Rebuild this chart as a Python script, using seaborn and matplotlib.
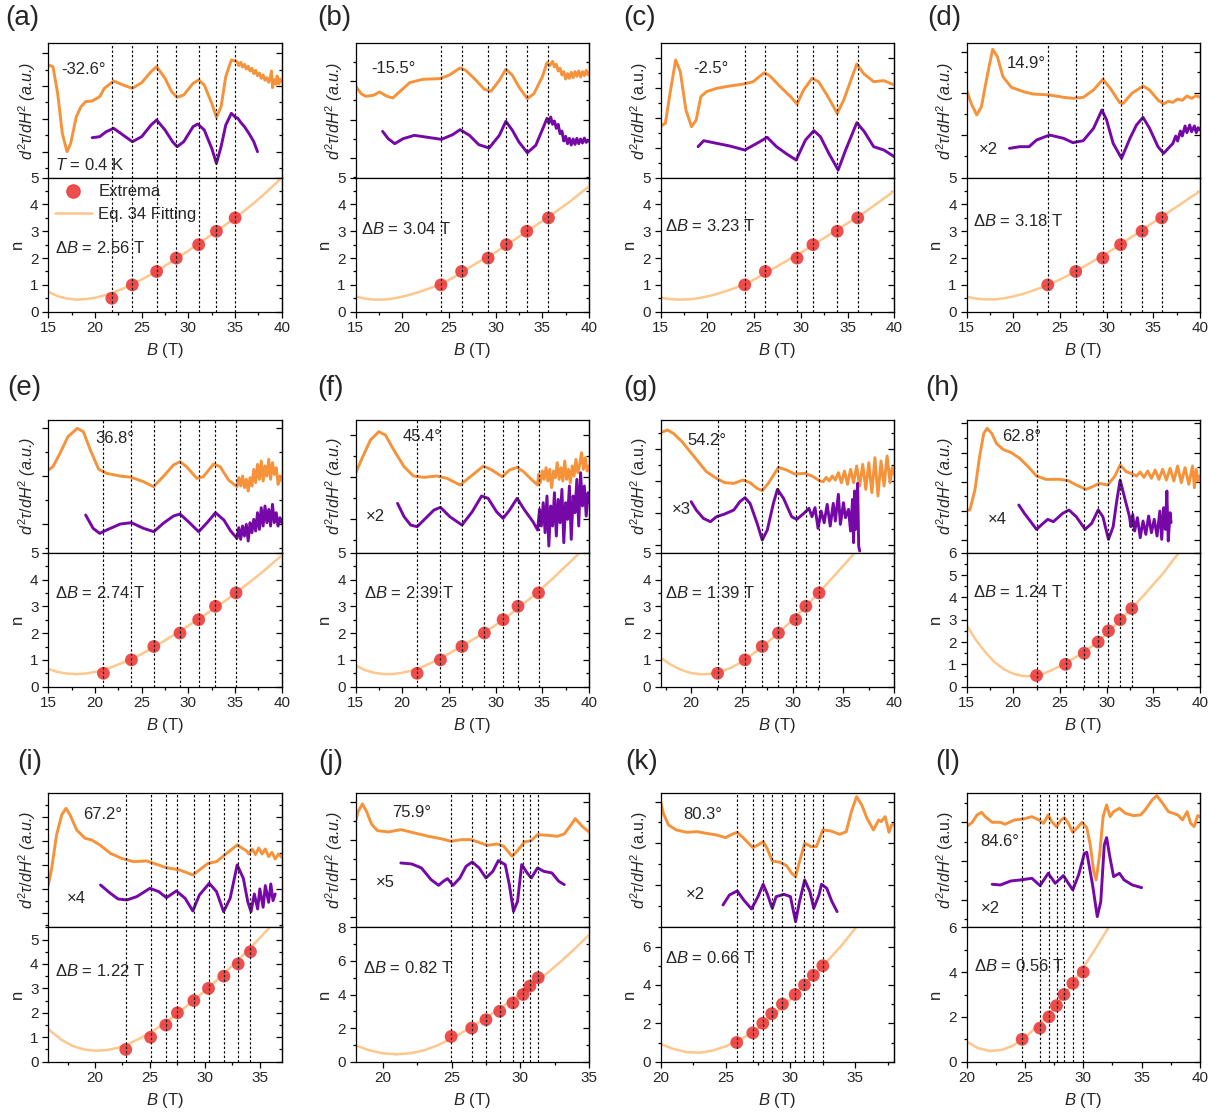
import numpy as np
import pandas as pd
import matplotlib
matplotlib.use("Agg")
import matplotlib.pyplot as plt
import seaborn as sns
from matplotlib.ticker import MultipleLocator, FixedLocator
from matplotlib.lines import Line2D

# ------------------------------------------------------------------ data
# top traces: (B [T], signal [a.u.]) ; fits: (B, n) ; extrema B and n
a_orange = [(15.0,33.8),(15.5,33.3),(16.0,25.3),(16.5,13.3),(17.0,7.8),(17.4,10.3),(18.0,18.3),(18.5,21.3),(19.0,22.8),(19.7,23.0),(20.5,24.3),(21.0,26.8),(22.0,29.0),(23.0,27.8),(24.0,26.8),(25.0,28.5),(26.0,31.8),(26.6,33.3),(27.5,29.8),(28.2,25.8),(28.8,24.1),(29.5,24.8),(30.5,28.3),(31.1,29.3),(31.7,27.8),(32.5,22.3),(33.0,18.1),(33.5,21.3),(34.0,30.3),(34.6,35.3),(35.2,34.8),(35.4,33.6),(35.6,34.6),(35.8,33.2),(36.0,34.0),(36.2,32.6),(36.4,33.4),(36.6,32.0),(36.8,32.8),(37.0,31.2),(37.2,32.2),(37.4,30.6),(37.6,31.4),(37.8,29.8),(38.0,30.8),(38.2,29.2),(38.4,30.0),(38.6,28.6),(38.8,30.4),(38.9,32.0),(39.0,27.0),(39.2,29.4),(39.4,28.0),(39.5,30.5),(39.7,28.2),(39.8,29.6),(40.0,28.8)]
a_purple = [(19.7,12.0),(20.5,12.3),(21.2,13.8),(22.0,14.8),(23.0,12.8),(24.0,10.8),(25.0,12.3),(26.0,15.8),(26.6,17.3),(27.5,14.3),(28.3,10.8),(28.8,9.3),(29.5,10.8),(30.5,15.3),(31.0,16.1),(31.7,14.3),(32.5,8.8),(33.0,4.3),(33.5,9.3),(34.0,15.8),(34.6,19.3),(35.0,18.2),(35.3,17.8),(35.6,16.6),(36.0,15.3),(36.5,13.2),(37.0,10.8),(37.4,7.8)]
a_fit = [(15,0.74),(16,0.58),(17,0.49),(18,0.45),(19,0.47),(20,0.52),(21,0.61),(22,0.72),(23,0.86),(24,1.02),(25,1.2),(26,1.39),(27,1.6),(28,1.82),(29,2.05),(30,2.28),(31,2.52),(32,2.76),(33,3.0),(34,3.25),(35,3.5),(36,3.77),(37,4.05),(38,4.35),(39,4.67),(40,5.0)]
a_ext_B = [21.8, 24.0, 26.6, 28.7, 31.1, 33.0, 35.0]
a_ext_n = [0.5, 1.0, 1.5, 2.0, 2.5, 3.0, 3.5]

b_orange = [(15.0,27.5),(15.6,25.2),(16.1,24.4),(16.9,24.7),(17.6,25.7),(18.3,24.5),(19.0,23.9),(19.7,25.7),(20.8,28.5),(22.2,29.5),(24.0,29.7),(25.0,30.7),(26.2,32.9),(26.8,32.2),(27.9,29.2),(28.8,26.5),(29.5,25.9),(30.4,29.2),(31.1,32.5),(31.8,30.7),(32.5,27.2),(33.4,23.7),(34.1,25.2),(35.0,30.2),(35.5,34.5),(35.8,33.6),(36.1,34.9),(36.3,33.2),(36.5,34.0),(36.7,32.0),(36.9,32.8),(37.1,30.8),(37.3,31.8),(37.5,29.6),(37.7,31.2),(37.9,29.8),(38.1,31.6),(38.3,30.0),(38.5,31.8),(38.7,30.4),(38.9,32.0),(39.1,30.2),(39.3,31.8),(39.5,30.6),(39.7,32.2),(39.9,30.8),(40.0,31.7)]
b_purple = [(17.9,13.9),(18.5,11.7),(19.2,10.2),(20.1,11.7),(21.3,12.7),(22.5,12.2),(24.2,11.5),(25.4,12.9),(26.2,14.4),(27.2,12.7),(28.2,9.9),(29.3,8.9),(30.4,12.7),(31.1,16.9),(31.8,14.2),(32.5,10.7),(33.4,7.5),(34.3,9.7),(35.2,15.7),(35.5,17.8),(35.7,16.4),(35.9,18.2),(36.1,16.0),(36.3,17.0),(36.5,14.8),(36.7,16.0),(36.9,13.2),(37.1,14.0),(37.3,11.0),(37.5,12.4),(37.7,10.2),(37.9,11.8),(38.1,9.8),(38.3,11.6),(38.5,10.0),(38.7,11.8),(38.9,10.2),(39.1,11.6),(39.3,10.4),(39.5,11.9),(39.7,10.6),(40.0,11.2)]
b_fit = [(15,0.57),(16,0.49),(17,0.45),(18,0.45),(19,0.49),(20,0.56),(21,0.65),(22,0.76),(23,0.88),(24,1.0),(25,1.18),(26,1.38),(27,1.6),(28,1.82),(29,2.02),(30,2.22),(31,2.45),(32,2.68),(33,2.92),(34,3.15),(35,3.38),(36,3.62),(37,3.87),(38,4.12),(39,4.4),(40,4.67)]
b_ext_B = [24.15, 26.36, 29.2, 31.16, 33.34, 35.66]
b_ext_n = [1.0, 1.5, 2.0, 2.5, 3.0, 3.5]

c_orange = [(15.0,15.5),(15.5,16.3),(16.0,25.3),(16.6,35.3),(17.1,31.8),(17.7,20.3),(18.3,15.3),(18.8,17.3),(19.3,24.3),(19.9,25.8),(21.0,26.8),(22.4,27.5),(23.9,28.1),(24.9,28.8),(26.1,31.5),(26.7,30.5),(27.8,27.3),(28.9,24.3),(29.6,22.1),(30.3,26.3),(31.2,29.8),(31.9,28.8),(32.8,24.8),(33.9,19.3),(34.6,23.3),(35.5,30.3),(36.0,34.1),(36.7,31.3),(37.8,28.8),(38.9,29.1),(40.0,27.8)]
c_purple = [(19.0,9.3),(19.6,11.1),(21.0,10.3),(22.4,9.5),(24.0,8.3),(25.3,10.3),(26.4,12.1),(27.4,9.3),(28.5,7.1),(29.5,5.3),(30.5,11.3),(31.4,14.1),(32.1,12.3),(33.0,7.3),(34.0,2.3),(34.8,8.3),(36.0,16.5),(36.8,13.8),(37.8,9.3),(38.9,8.3),(40.0,6.3)]
c_fit = [(15,0.52),(16,0.47),(17,0.45),(18,0.46),(19,0.5),(20,0.57),(21,0.66),(22,0.77),(23,0.89),(24,1.02),(25,1.2),(26,1.4),(27,1.6),(28,1.8),(29,2.0),(30,2.2),(31,2.42),(32,2.64),(33,2.86),(34,3.08),(35,3.3),(36,3.52),(37,3.75),(38,4.0),(39,4.25),(40,4.5)]
c_ext_B = [24.0, 26.2, 29.6, 31.3, 33.9, 36.1]
c_ext_n = [1.0, 1.5, 2.0, 2.5, 3.0, 3.5]

d_orange = [(15.0,26.3),(15.5,22.3),(16.1,18.8),(16.6,21.3),(17.2,30.3),(17.8,38.5),(18.3,36.3),(18.9,30.3),(19.8,27.1),(21.1,25.8),(22.1,25.1),(23.9,24.8),(25.4,24.1),(26.4,23.8),(27.5,24.1),(28.6,26.3),(29.6,29.5),(30.4,26.8),(31.4,22.5),(31.8,22.3),(32.7,25.3),(33.9,27.5),(34.6,26.3),(35.5,23.3),(36.1,22.1),(36.6,22.9),(37.1,22.6),(37.6,23.6),(38.1,23.2),(38.6,24.5),(39.1,23.8),(39.6,24.6),(40.0,24.1)]
d_purple = [(19.6,8.8),(20.7,9.3),(21.7,9.3),(22.5,11.3),(23.9,12.8),(25.4,11.8),(26.4,10.5),(27.5,11.1),(28.6,14.8),(29.5,20.3),(30.0,17.3),(30.7,10.3),(31.6,5.8),(32.5,11.8),(33.2,15.8),(33.9,18.1),(34.6,14.8),(35.5,9.3),(36.1,7.3),(36.6,8.8),(37.1,10.3),(37.4,12.5),(37.6,11.0),(37.9,14.0),(38.1,12.5),(38.4,15.5),(38.6,13.5),(38.9,15.8),(39.1,13.8),(39.4,15.5),(39.6,13.5),(39.8,15.0),(40.0,14.3)]
d_fit = [(15,0.56),(16,0.49),(17,0.46),(18,0.46),(19,0.5),(20,0.57),(21,0.66),(22,0.77),(23,0.9),(24,1.04),(25,1.2),(26,1.38),(27,1.57),(28,1.77),(29,1.97),(30,2.17),(31,2.4),(32,2.63),(33,2.86),(34,3.1),(35,3.33),(36,3.57),(37,3.8),(38,4.03),(39,4.27),(40,4.5)]
d_ext_B = [23.7, 26.7, 29.6, 31.5, 33.8, 35.9]
d_ext_n = [1.0, 1.5, 2.0, 2.5, 3.0, 3.5]

e_orange = [(15.0,24.8),(15.5,25.8),(16.25,29.8),(17.1,34.8),(18.1,37.3),(18.75,36.3),(19.5,30.8),(20.4,25.0),(21.25,23.8),(22.7,23.0),(23.9,22.6),(25.2,21.3),(26.25,19.8),(27.3,22.8),(28.4,26.3),(29.1,27.3),(29.8,25.8),(30.9,22.3),(31.6,22.8),(32.7,26.6),(33.4,25.8),(34.3,21.8),(35.2,19.8),(35.4,22.5),(35.6,20.0),(35.8,23.0),(36.0,19.5),(36.2,22.0),(36.4,18.5),(36.6,22.5),(36.8,20.0),(37.0,25.0),(37.2,21.0),(37.4,26.5),(37.6,22.0),(37.8,27.5),(38.0,21.5),(38.2,26.0),(38.4,23.0),(38.6,28.0),(38.8,22.0),(39.0,27.0),(39.2,23.5),(39.4,25.5),(39.6,20.5),(39.8,23.0),(40.0,21.5)]
e_purple = [(19.0,11.3),(19.8,7.3),(20.5,5.8),(21.25,6.8),(22.7,8.6),(23.9,9.0),(25.2,7.3),(26.3,6.3),(27.3,8.8),(28.4,11.0),(29.1,11.6),(30.0,9.3),(31.1,6.3),(32.0,9.0),(32.9,12.0),(33.8,9.8),(34.5,6.6),(35.2,4.3),(35.4,7.5),(35.6,4.0),(35.8,8.0),(36.0,5.0),(36.2,8.5),(36.4,3.5),(36.6,9.0),(36.8,6.0),(37.0,10.0),(37.2,6.5),(37.4,12.0),(37.6,7.0),(37.8,13.5),(38.0,8.0),(38.2,14.0),(38.4,9.0),(38.6,13.0),(38.8,8.0),(39.0,14.5),(39.2,9.0),(39.4,12.0),(39.6,8.0),(39.8,10.5),(40.0,9.0)]
e_fit = [(15,0.66),(16,0.55),(17,0.49),(18,0.47),(19,0.49),(20,0.55),(21,0.64),(22,0.76),(23,0.9),(24,1.05),(25,1.22),(26,1.42),(27,1.62),(28,1.84),(29,2.05),(30,2.28),(31,2.5),(32,2.74),(33,2.98),(34,3.22),(35,3.48),(36,3.75),(37,4.02),(38,4.3),(39,4.6),(40,4.9)]
e_ext_B = [20.9, 23.9, 26.3, 29.1, 31.1, 32.9, 35.1]
e_ext_n = [0.5, 1.0, 1.5, 2.0, 2.5, 3.0, 3.5]

f_orange = [(15.0,23.8),(15.7,28.3),(16.6,33.8),(17.5,36.3),(18.2,35.3),(19.1,30.8),(20.2,25.8),(21.2,23.0),(22.3,22.6),(23.7,23.0),(24.8,22.3),(26.2,20.3),(27.3,22.8),(28.7,26.0),(29.6,24.8),(30.7,22.8),(31.5,24.8),(32.3,25.6),(33.0,24.3),(33.9,21.8),(34.5,20.3),(34.6,23.5),(34.8,21.0),(35.0,24.5),(35.2,22.0),(35.4,25.5),(35.6,21.5),(35.8,25.0),(36.0,19.5),(36.2,24.5),(36.4,22.5),(36.6,27.0),(36.8,22.0),(37.0,25.5),(37.2,21.5),(37.4,27.5),(37.6,22.0),(37.8,25.0),(38.0,21.0),(38.2,26.0),(38.4,23.0),(38.6,28.0),(38.8,24.0),(39.0,26.5),(39.2,30.0),(39.4,25.0),(39.6,28.5),(39.8,24.5),(40.0,26.0)]
f_purple = [(19.5,14.8),(20.2,10.8),(20.9,8.3),(21.6,7.8),(22.5,10.3),(23.4,12.8),(24.1,13.6),(25.1,10.8),(26.4,8.3),(27.5,12.3),(28.5,17.0),(29.2,16.3),(30.1,12.3),(30.8,10.3),(31.5,12.8),(32.3,16.3),(33.1,12.8),(34.0,9.3),(34.5,6.8),(34.7,13.0),(34.9,8.0),(35.1,15.0),(35.3,6.0),(35.5,17.0),(35.7,2.0),(35.9,14.0),(36.1,8.0),(36.3,18.0),(36.5,5.0),(36.7,16.0),(36.9,9.0),(37.1,19.0),(37.3,3.0),(37.5,15.0),(37.7,10.0),(37.9,20.0),(38.1,4.0),(38.3,17.0),(38.5,12.0),(38.7,22.0),(38.9,8.0),(39.1,24.0),(39.3,14.0),(39.5,20.0),(39.7,11.0),(39.9,18.0),(40.0,15.0)]
f_fit = [(15,0.8),(16,0.62),(17,0.52),(18,0.47),(19,0.47),(20,0.52),(21,0.6),(22,0.72),(23,0.87),(24,1.04),(25,1.23),(26,1.44),(27,1.64),(28,1.85),(29,2.07),(30,2.3),(31,2.55),(32,2.82),(33,3.1),(34,3.38),(35,3.68),(36,4.0),(37,4.33),(38,4.66),(39,5.0),(40,5.35)]
f_ext_B = [21.6, 24.1, 26.4, 28.8, 30.8, 32.4, 34.6]
f_ext_n = [0.5, 1.0, 1.5, 2.0, 2.5, 3.0, 3.5]

g_orange = [(17.0,36.0),(17.66,36.8),(18.25,35.8),(19.1,33.3),(19.9,30.3),(20.7,27.3),(21.5,24.3),(22.5,22.3),(23.3,21.0),(24.2,20.8),(25.1,21.8),(25.8,21.0),(26.5,19.3),(27.0,18.6),(27.6,20.8),(28.6,25.6),(29.4,24.8),(30.2,23.6),(31.2,23.8),(31.9,23.0),(32.7,21.5),(33.0,21.3),(33.3,22.6),(33.6,21.5),(33.9,23.0),(34.2,21.8),(34.5,24.0),(34.8,21.0),(35.1,24.5),(35.4,20.5),(35.7,25.0),(36.0,21.0),(36.3,26.0),(36.6,20.0),(36.9,26.5),(37.2,19.0),(37.5,27.0),(37.8,18.0),(38.1,28.5),(38.4,17.0),(38.7,27.5),(39.0,20.0),(39.3,29.0),(39.6,21.0),(39.8,25.5),(40.0,23.5)]
g_purple = [(20.0,15.3),(20.5,12.8),(21.2,10.3),(21.9,9.3),(22.5,10.8),(23.3,11.6),(24.2,12.8),(24.8,15.3),(25.3,16.5),(25.8,14.8),(26.5,8.8),(27.0,3.8),(27.5,6.8),(28.1,14.8),(28.5,19.0),(29.1,16.3),(29.9,10.8),(30.4,10.0),(31.1,11.8),(31.6,13.3),(31.9,10.8),(32.2,13.5),(32.5,7.3),(32.8,12.5),(33.1,9.0),(33.4,14.5),(33.7,8.0),(34.0,14.8),(34.2,9.5),(34.5,17.5),(34.7,8.5),(35.0,15.0),(35.2,10.5),(35.5,13.0),(35.7,6.5),(35.9,16.0),(36.0,3.0),(36.1,18.5),(36.2,7.0),(36.4,20.8),(36.5,2.0),(36.6,0.5)]
g_fit = [(17,1.08),(18,0.82),(19,0.63),(20,0.51),(21,0.46),(22,0.48),(23,0.57),(24,0.72),(25,0.93),(26,1.2),(27,1.5),(28,1.8),(29,2.15),(30,2.5),(31,2.88),(32,3.28),(33,3.68),(34,4.1),(35,4.52),(36,4.95),(37,5.4)]
g_ext_B = [22.6, 25.3, 27.0, 28.6, 30.3, 31.3, 32.6]
g_ext_n = [0.5, 1.0, 1.5, 2.0, 2.5, 3.0, 3.5]

h_orange = [(15.0,12.8),(15.36,12.8),(15.9,18.8),(16.4,28.8),(16.85,35.8),(17.2,37.3),(17.7,35.8),(18.2,32.8),(18.9,31.0),(19.8,30.0),(20.7,28.3),(21.6,25.8),(22.5,23.0),(23.5,22.0),(25.0,22.0),(25.9,21.6),(26.75,20.3),(27.8,19.0),(28.5,19.8),(29.2,20.8),(30.1,20.3),(30.85,22.8),(31.45,26.3),(32.1,24.3),(32.8,23.6),(33.2,23.0),(33.6,24.2),(34.0,22.6),(34.4,24.5),(34.8,22.3),(35.2,24.8),(35.6,22.0),(36.0,25.0),(36.4,21.8),(36.8,25.3),(37.2,21.5),(37.6,26.0),(38.0,21.0),(38.4,25.5),(38.8,20.5),(39.2,26.0),(39.4,19.5),(39.6,25.0),(39.8,21.5),(40.0,23.0)]
h_purple = [(20.6,14.3),(21.2,11.8),(22.5,7.0),(23.2,8.8),(23.7,10.0),(24.3,9.3),(25.3,11.8),(25.97,12.8),(26.75,10.8),(27.7,7.0),(28.4,8.8),(29.1,12.8),(29.6,10.8),(30.2,4.0),(30.7,7.8),(31.1,15.8),(31.45,21.8),(31.9,16.8),(32.45,10.8),(32.6,7.8),(32.8,11.5),(33.0,6.5),(33.3,10.5),(33.6,4.5),(33.9,9.5),(34.2,5.5),(34.5,11.0),(34.8,6.0),(35.1,10.0),(35.4,5.0),(35.7,12.5),(35.9,4.0),(36.1,13.5),(36.3,7.0),(36.45,18.5),(36.6,3.5),(36.8,12.0),(36.9,9.0)]
h_fit = [(15,2.76),(16,2.1),(17,1.55),(18,1.1),(19,0.78),(20,0.58),(21,0.48),(22,0.46),(23,0.55),(24,0.72),(25,0.92),(26,1.15),(27,1.4),(28,1.68),(29,1.98),(30,2.38),(31,2.8),(32,3.22),(33,3.65),(34,4.1),(35,4.58),(36,5.05),(37,5.6),(38,6.15)]
h_ext_B = [22.5, 25.6, 27.6, 29.1, 30.2, 31.45, 32.7]
h_ext_n = [0.5, 1.0, 1.5, 2.0, 2.5, 3.0, 3.5]

i_orange = [(15.76,12.7),(16.06,17.7),(16.5,27.7),(16.97,33.7),(17.36,35.7),(17.73,33.7),(18.33,29.2),(19.1,26.7),(19.7,26.2),(20.45,24.7),(21.4,22.2),(22.4,20.7),(23.5,19.7),(24.7,19.9),(25.6,18.9),(26.5,17.9),(27.7,17.2),(28.9,15.7),(29.5,17.2),(30.3,19.2),(31.06,19.7),(31.8,21.7),(32.94,24.7),(33.8,22.9),(34.0,22.0),(34.3,23.5),(34.6,21.8),(34.9,23.8),(35.2,22.0),(35.5,23.5),(35.8,21.2),(36.1,22.5),(36.4,20.5),(36.7,22.0),(37.0,21.0)]
i_purple = [(20.5,12.7),(21.4,10.2),(22.1,8.5),(22.9,8.2),(23.8,9.2),(25.0,11.7),(25.8,10.7),(26.5,8.9),(27.4,10.9),(28.2,8.7),(28.9,4.9),(29.5,9.7),(30.4,13.2),(31.06,10.7),(31.7,4.7),(32.3,8.7),(32.94,18.7),(33.5,14.7),(33.9,7.7),(34.2,4.7),(34.5,10.0),(34.8,5.5),(35.0,11.5),(35.3,6.0),(35.5,12.5),(35.8,7.5),(36.0,13.0),(36.2,8.0),(36.4,10.0)]
i_fit = [(15.75,1.34),(16,1.24),(17,0.88),(18,0.64),(19,0.5),(20,0.45),(21,0.47),(22,0.56),(23,0.72),(24,0.93),(25,1.18),(26,1.47),(27,1.8),(28,2.15),(29,2.52),(30,2.9),(31,3.3),(32,3.72),(33,4.15),(34,4.6),(35,5.06),(36,5.55)]
i_ext_B = [22.8, 25.06, 26.45, 27.5, 29.0, 30.33, 31.73, 33.03, 34.15]
i_ext_n = [0.5, 1.0, 1.5, 2.0, 2.5, 3.0, 3.5, 4.0, 4.5]

j_orange = [(18.0,31.8),(18.2,34.8),(18.5,37.0),(18.8,34.8),(19.16,31.0),(19.6,29.0),(20.4,28.6),(21.3,29.3),(22.3,28.3),(23.3,27.3),(24.2,26.6),(24.96,25.8),(25.7,26.3),(26.4,26.3),(26.9,25.6),(27.6,24.6),(28.35,25.0),(28.8,24.3),(29.4,21.3),(29.8,23.0),(30.3,25.6),(30.8,26.0),(31.25,27.8),(32.0,27.6),(32.7,27.3),(33.2,28.0),(33.7,30.8),(34.0,32.6),(34.5,30.3),(35.0,28.6)]
j_purple = [(21.3,19.3),(22.1,19.0),(22.8,17.8),(23.5,14.3),(24.05,12.6),(24.4,13.8),(24.7,14.6),(25.1,12.6),(25.6,14.8),(26.05,18.3),(26.5,19.6),(27.0,17.8),(27.5,14.8),(28.0,16.8),(28.4,20.0),(28.9,18.8),(29.2,12.8),(29.5,4.8),(29.8,7.8),(30.1,18.8),(30.5,16.3),(30.8,14.8),(31.25,17.8),(31.7,16.8),(32.3,16.3),(32.8,13.8),(33.2,12.8)]
j_fit = [(18,0.97),(19,0.68),(20,0.5),(21,0.44),(22,0.5),(23,0.68),(24,0.98),(25,1.38),(26,1.85),(27,2.35),(28,2.88),(29,3.44),(30,4.02),(31,4.65),(32,5.3),(33,6.0),(34,6.75),(35,7.55)]
j_ext_B = [24.96, 26.46, 27.5, 28.5, 29.46, 30.2, 30.7, 31.3]
j_ext_n = [1.5, 2.0, 2.5, 3.0, 3.5, 4.0, 4.5, 5.0]

k_orange = [(20.0,37.7),(20.2,34.2),(20.6,30.7),(21.2,29.2),(22.0,28.5),(22.8,28.7),(23.5,28.2),(24.3,27.7),(25.0,26.9),(25.5,27.9),(25.9,28.5),(26.4,26.7),(27.1,23.9),(27.5,24.7),(27.9,25.7),(28.2,23.7),(28.6,19.9),(29.2,19.5),(29.7,18.5),(30.1,16.2),(30.4,15.2),(30.7,19.7),(31.1,25.2),(31.6,24.2),(32.0,24.2),(32.5,29.2),(33.1,28.9),(33.8,27.9),(34.3,28.7),(34.7,34.7),(35.1,39.2),(35.5,36.7),(35.9,32.7),(36.4,29.2),(36.8,32.2),(37.0,31.7),(37.3,33.2),(37.6,28.5),(37.8,30.7),(38.0,30.9)]
k_purple = [(24.8,6.7),(25.3,9.7),(25.9,10.9),(26.4,8.2),(27.0,5.5),(27.5,9.2),(27.9,12.9),(28.2,10.2),(28.6,5.7),(28.9,9.2),(29.5,9.9),(30.0,9.2),(30.4,1.7),(30.7,7.7),(31.1,14.2),(31.5,10.7),(31.8,5.7),(32.2,9.7),(32.4,12.9),(32.8,11.7),(33.2,7.7),(33.6,4.7)]
k_fit = [(20,0.92),(21,0.66),(22,0.5),(23,0.47),(24,0.58),(25,0.8),(26,1.1),(27,1.5),(28,2.0),(29,2.62),(30,3.25),(31,3.95),(32,4.65),(33,5.35),(34,6.1),(35,6.95),(35.2,7.12)]
k_ext_B = [25.86, 27.1, 27.87, 28.56, 29.38, 30.36, 31.08, 31.77, 32.5]
k_ext_n = [1.0, 1.5, 2.0, 2.5, 3.0, 3.5, 4.0, 4.5, 5.0]

l_orange = [(20.0,30.2),(20.5,31.5),(20.9,33.7),(21.3,34.5),(21.6,33.2),(22.2,31.5),(22.9,31.5),(23.3,30.9),(24.1,32.2),(24.9,32.5),(25.6,33.2),(26.2,32.2),(26.6,31.2),(27.0,33.7),(27.3,31.7),(27.7,30.2),(28.1,32.2),(28.4,32.9),(28.8,30.7),(29.1,28.5),(29.5,29.9),(29.9,31.5),(30.3,29.9),(30.6,24.7),(30.9,16.7),(31.1,14.2),(31.4,21.7),(31.7,33.2),(32.0,36.7),(32.3,33.2),(32.6,34.7),(33.1,35.7),(33.6,34.2),(34.3,33.5),(34.9,33.7),(35.3,35.2),(35.9,38.2),(36.3,39.5),(36.8,37.2),(37.3,34.7),(38.1,33.7),(38.5,32.2),(38.9,34.7),(39.2,31.2),(39.5,30.2),(39.8,33.5),(40.0,33.2)]
l_purple = [(22.2,12.9),(22.9,12.7),(23.8,13.9),(24.6,14.2),(25.6,14.7),(26.3,12.5),(27.0,16.2),(27.6,13.2),(28.3,15.5),(29.1,11.2),(29.6,15.7),(30.1,22.2),(30.3,22.5),(30.8,12.7),(31.2,3.2),(31.5,7.7),(31.8,24.7),(32.0,26.9),(32.3,20.7),(32.6,15.2),(33.1,16.2),(33.5,14.2),(34.2,12.7),(35.0,11.9)]
l_fit = [(20,0.9),(21,0.6),(22,0.48),(23,0.52),(24,0.72),(25,1.08),(26,1.55),(27,2.1),(28,2.75),(29,3.45),(30,4.2),(31,5.0),(32,5.85),(32.3,6.1)]
l_ext_B = [24.77, 26.29, 27.06, 27.71, 28.34, 29.11, 30.0]
l_ext_n = [1.0, 1.5, 2.0, 2.5, 3.0, 3.5, 4.0]

angles = ["-32.6°", "-15.5°", "-2.5°", "14.9°", "36.8°", "45.4°",
          "54.2°", "62.8°", "67.2°", "75.9°", "80.3°", "84.6°"]
delta_B = ["2.56", "3.04", "3.23", "3.18", "2.74", "2.39",
           "1.39", "1.24", "1.22", "0.82", "0.66", "0.56"]
scales = [None, None, None, "×2", None, "×2", "×3", "×4", "×4", "×5", "×2", "×2"]
panel_letters = list("abcdefghijkl")

# ------------------------------------------------------------------ style
sns.set_theme(style="ticks")
plt.rcParams["font.family"] = ["Liberation Sans", "DejaVu Sans"]
plt.rcParams["mathtext.fontset"] = "custom"
plt.rcParams["mathtext.rm"] = "Liberation Sans"
plt.rcParams["mathtext.it"] = "Liberation Sans:italic"
plt.rcParams["mathtext.bf"] = "Liberation Sans:bold"

ORANGE = "#F6923A"
PURPLE = "#7608A8"
FIT = "#FDC78E"
RED = "#EC3B3B"

W, H = 1220, 1118
fig = plt.figure(figsize=(W / 100, H / 100), dpi=100)

COL_L = [48.3, 355.5, 660.7, 966.5]
AX_W = 233.5
ROWS = [(43.3, 177.7, 311.7), (420.0, 552.7, 686.7), (793.3, 927.3, 1061.7)]
TOP_YMAX = [40.3, 39.8, 40.2]
LABEL_XY = [(5, 5), (317, 5), (623, 5), (927, 5), (7, 375), (317, 375),
            (623, 375), (925, 375), (17, 749), (318, 749), (625, 749), (935, 749)]

# layout / annotation settings per panel (positions in data coordinates)
LAYOUT = [
    dict(xlim=(15, 40), nmax=5, nstep=1, tick=(7.8, 9.85), ang=(16.4, 32.3), sc=None, db=(15.7, 2.36), ital=True),
    dict(xlim=(15, 40), nmax=5, nstep=1, tick=(6.0, 11.45), ang=(16.7, 32.7), sc=None, db=(15.6, 3.07), ital=True),
    dict(xlim=(15, 40), nmax=5, nstep=1, tick=(8.8, 9.0), ang=(18.5, 32.8), sc=None, db=(15.5, 3.2), ital=False),
    dict(xlim=(15, 40), nmax=5, nstep=1, tick=(12.8, 12.5), ang=(19.3, 34.3), sc=(16.3, 8.5), db=(15.7, 3.4), ital=True),
    dict(xlim=(15, 40), nmax=5, nstep=1, tick=(8.6, 14.35), ang=(20.0, 34.3), sc=None, db=(15.7, 3.5), ital=True),
    dict(xlim=(15, 40), nmax=5, nstep=1, tick=(10.0, 12.65), ang=(20.0, 34.8), sc=(16.1, 10.8), db=(15.9, 3.5), ital=True),
    dict(xlim=(17, 40), nmax=5, nstep=1, tick=(2.3, 9.6), ang=(19.6, 33.8), sc=(18.1, 13.0), db=(17.4, 3.5), ital=False),
    dict(xlim=(15, 40), nmax=6, nstep=1, tick=(3.8, 8.75), ang=(18.85, 34.8), sc=(17.3, 10.0), db=(15.7, 4.25), ital=True),
    dict(xlim=(15.75, 37), nmax=5.5, nstep=1, tick=(4.2, 7.25), ang=(18.9, 33.7), sc=(17.4, 8.5), db=(16.4, 3.7), ital=True),
    dict(xlim=(18, 35), nmax=8, nstep=2, tick=(3.1, 11.5), ang=(20.7, 34.3), sc=(19.5, 13.3), db=(18.55, 5.6), ital=True),
    dict(xlim=(20, 38), nmax=7, nstep=2, tick=(12.7, 12.5), ang=(21.7, 33.7), sc=(21.9, 9.7), db=(20.3, 5.4), ital=False),
    dict(xlim=(20, 40), nmax=6, nstep=2, tick=(8.2, 11.65), ang=(21.2, 25.7), sc=(21.2, 5.7), db=(20.6, 4.27), ital=False),
]

DATA = {
    "a": (a_orange, a_purple, a_fit, a_ext_B, a_ext_n),
    "b": (b_orange, b_purple, b_fit, b_ext_B, b_ext_n),
    "c": (c_orange, c_purple, c_fit, c_ext_B, c_ext_n),
    "d": (d_orange, d_purple, d_fit, d_ext_B, d_ext_n),
    "e": (e_orange, e_purple, e_fit, e_ext_B, e_ext_n),
    "f": (f_orange, f_purple, f_fit, f_ext_B, f_ext_n),
    "g": (g_orange, g_purple, g_fit, g_ext_B, g_ext_n),
    "h": (h_orange, h_purple, h_fit, h_ext_B, h_ext_n),
    "i": (i_orange, i_purple, i_fit, i_ext_B, i_ext_n),
    "j": (j_orange, j_purple, j_fit, j_ext_B, j_ext_n),
    "k": (k_orange, k_purple, k_fit, k_ext_B, k_ext_n),
    "l": (l_orange, l_purple, l_fit, l_ext_B, l_ext_n),
}

FS_TICK = 11
FS_LAB = 11.5
FS_ANN = 12
DOT = (0, (2.0, 1.8))


def frame(ax):
    for s in ax.spines.values():
        s.set_visible(True)
        s.set_linewidth(0.9)
        s.set_color("black")


def right_ticks(ax, major, minor):
    sec = ax.secondary_yaxis("right")
    sec.yaxis.set_major_locator(major)
    sec.yaxis.set_minor_locator(minor)
    sec.tick_params(which="both", direction="in", labelright=False, width=0.9, color="black")
    sec.tick_params(which="major", length=4)
    sec.tick_params(which="minor", length=2.2)
    sec.spines["right"].set_linewidth(0.9)
    return sec


for idx, letter in enumerate(panel_letters):
    row, col = divmod(idx, 4)
    lay = LAYOUT[idx]
    orange, purple, fit, ext_B, ext_n = DATA[letter]
    top_px, split_px, bot_px = ROWS[row]
    left = COL_L[col] / W
    wid = AX_W / W
    ax_t = fig.add_axes([left, 1 - split_px / H, wid, (split_px - top_px) / H])
    ax_b = fig.add_axes([left, 1 - bot_px / H, wid, (bot_px - split_px) / H])

    # ---------------- top panel: traces
    df_o = pd.DataFrame(orange, columns=["B", "v"])
    df_p = pd.DataFrame(purple, columns=["B", "v"])
    sns.lineplot(data=df_o, x="B", y="v", ax=ax_t, color=ORANGE, linewidth=2.1,
                 estimator=None, sort=False, legend=False, zorder=2)
    sns.lineplot(data=df_p, x="B", y="v", ax=ax_t, color=PURPLE, linewidth=2.1,
                 estimator=None, sort=False, legend=False, zorder=2)
    for b in ext_B:
        ax_t.axvline(b, color="black", lw=0.85, ls=DOT, zorder=4)
    ax_t.set_xlim(*lay["xlim"])
    ax_t.set_ylim(0, TOP_YMAX[row])
    ax_t.set_xlabel("")
    ax_t.tick_params(axis="x", which="both", bottom=False, top=False, labelbottom=False)
    t0, ts = lay["tick"]
    majors = [t0 + k * ts for k in range(10) if t0 + k * ts < TOP_YMAX[row]]
    minors = [t0 - ts / 2 + k * ts for k in range(11) if 0 < t0 - ts / 2 + k * ts < TOP_YMAX[row]]
    ax_t.yaxis.set_major_locator(FixedLocator(majors))
    ax_t.yaxis.set_minor_locator(FixedLocator(minors))
    ax_t.tick_params(axis="y", which="both", direction="out", left=True, right=False,
                     labelleft=False, width=0.9, color="black")
    ax_t.tick_params(axis="y", which="major", length=4.5)
    ax_t.tick_params(axis="y", which="minor", length=2.5)
    right_ticks(ax_t, FixedLocator(majors), FixedLocator(minors))
    frame(ax_t)
    ylab = r"$d^2\tau/dH^2$ (a.u.)"
    ax_t.set_ylabel(ylab, fontsize=FS_LAB, fontstyle="italic" if lay["ital"] else "normal")
    ax_t.yaxis.set_label_coords(-0.045, 0.5)

    ax_t.text(lay["ang"][0], lay["ang"][1], angles[idx], fontsize=FS_ANN,
              ha="left", va="center", zorder=6)
    if scales[idx]:
        ax_t.text(lay["sc"][0], lay["sc"][1], scales[idx], fontsize=FS_ANN,
                  ha="left", va="center", zorder=6)
    if letter == "a":
        ax_t.text(15.7, 3.8, r"$T$ = 0.4 K", fontsize=FS_ANN, ha="left", va="center")

    # ---------------- bottom panel: n vs B
    df_f = pd.DataFrame(fit, columns=["B", "n"])
    sns.lineplot(data=df_f, x="B", y="n", ax=ax_b, color=FIT, linewidth=1.8,
                 estimator=None, sort=False, legend=False, zorder=2)
    sns.scatterplot(x=ext_B, y=ext_n, ax=ax_b, color=RED, s=85, edgecolor="none",
                    alpha=0.9, zorder=3, legend=False)
    for b in ext_B:
        ax_b.axvline(b, color="black", lw=0.85, ls=DOT, zorder=4)
    ax_b.set_xlim(*lay["xlim"])
    ax_b.set_ylim(0, lay["nmax"])
    ns = lay["nstep"]
    ax_b.xaxis.set_major_locator(MultipleLocator(5))
    ax_b.xaxis.set_minor_locator(MultipleLocator(2.5))
    ax_b.yaxis.set_major_locator(MultipleLocator(ns))
    ax_b.yaxis.set_minor_locator(MultipleLocator(ns / 2))
    ax_b.tick_params(which="both", direction="out", top=False, right=False,
                     labelsize=FS_TICK, width=0.9, color="black", pad=2.5)
    ax_b.tick_params(which="major", length=4.5)
    ax_b.tick_params(which="minor", length=2.5)
    right_ticks(ax_b, MultipleLocator(ns), MultipleLocator(ns / 2))
    frame(ax_b)
    ax_b.set_xlabel(r"$B$ (T)", fontsize=FS_ANN, labelpad=4)
    ax_b.set_ylabel("n", fontsize=FS_ANN)
    ax_b.yaxis.set_label_coords(-0.10, 0.5)
    ax_b.text(lay["db"][0], lay["db"][1], r"$\mathit{\Delta B}$ = " + delta_B[idx] + " T",
              fontsize=FS_ANN, ha="left", va="center", zorder=6)

    if letter == "a":
        handles = [Line2D([], [], marker="o", ls="none", color=RED, markersize=9.5, alpha=0.9),
                   Line2D([], [], color=FIT, lw=1.8)]
        ax_b.legend(handles, ["Extrema", "Eq. 34 Fitting"], loc="upper left",
                    frameon=False, fontsize=FS_ANN, handlelength=2.2,
                    handletextpad=0.4, borderaxespad=0.1, borderpad=0.3,
                    labelspacing=0.45)

    # ---------------- panel letter
    lx, ly = LABEL_XY[idx]
    fig.text(lx / W, 1 - ly / H, f"({letter})", fontsize=20, ha="left", va="top")

fig.savefig("out.png", dpi=100)
